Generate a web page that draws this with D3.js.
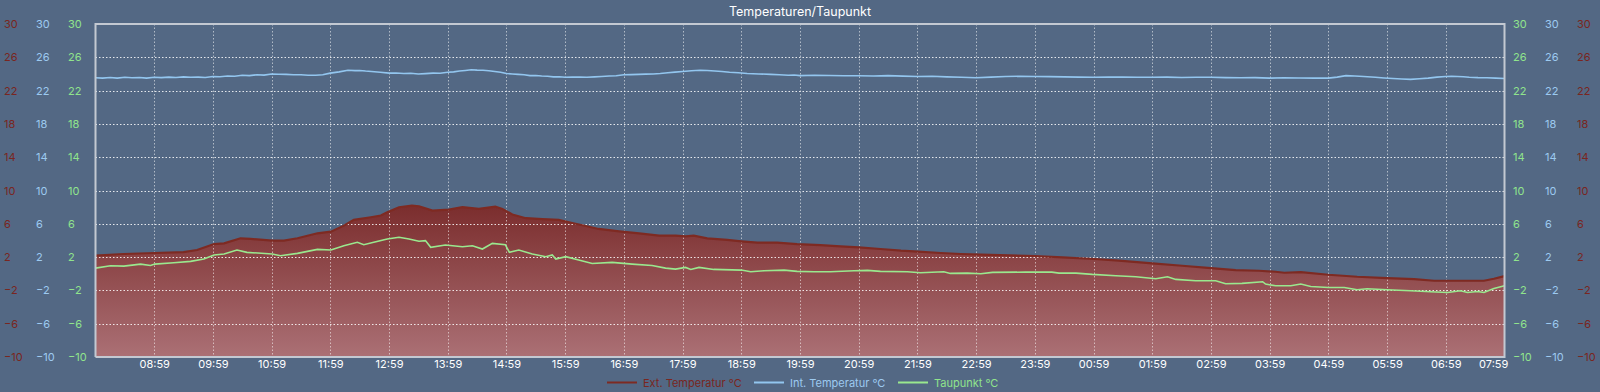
<!DOCTYPE html>
<html>
<head>
<meta charset="utf-8">
<script src="https://cdn.jsdelivr.net/npm/d3@7"></script>
<style>
  html, body { margin: 0; padding: 0; background: #536884; }
  svg { display: block; }
  text { font-family: Inter, "Noto Sans", sans-serif; }
</style>
</head>
<body>
<svg id="chart" width="1600" height="392"></svg>
<script>
// ---------------- data ----------------
const title = "Temperaturen/Taupunkt";
const startTime = "2024-01-01 07:59";
const xTickLabels = ["08:59","09:59","10:59","11:59","12:59","13:59","14:59","15:59","16:59","17:59","18:59","19:59","20:59","21:59","22:59","23:59","00:59","01:59","02:59","03:59","04:59","05:59","06:59","07:59"];
const yTicks = [30, 26, 22, 18, 14, 10, 6, 2, -2, -6, -10];
const seriesNames = ["Ext. Temperatur °C", "Int. Temperatur °C", "Taupunkt °C"];

// hours after start
const extHours = [0,0.48,1.01,1.5,1.73,2.02,2.19,2.47,2.64,3.01,3.21,3.44,3.78,4.01,4.23,4.4,4.69,4.86,4.97,5.17,5.39,5.51,5.74,6.02,6.25,6.53,6.81,6.93,7.1,7.33,7.61,7.89,8.12,8.35,8.57,8.92,9.26,9.6,9.88,10.05,10.19,10.42,10.76,11.0,11.27,11.61,11.95,12.35,12.69,13.0,13.37,13.72,14.01,14.4,14.74,15.08,15.56,16.0,16.47,17.01,17.43,18.0,18.51,19.0,19.42,19.82,20.1,20.25,20.53,21.0,21.49,22.0,22.46,22.8,23.2,23.65,23.82,24.0];
const extValues = [2.17,2.37,2.49,2.6,2.85,3.57,3.65,4.26,4.18,3.98,3.98,4.26,4.86,5.06,5.78,6.47,6.79,7.0,7.39,7.99,8.19,8.11,7.59,7.71,7.99,7.79,8.07,7.79,7.11,6.67,6.55,6.47,6.1,5.74,5.38,5.1,4.86,4.58,4.58,4.5,4.58,4.26,4.06,3.9,3.73,3.73,3.57,3.45,3.29,3.17,2.97,2.77,2.65,2.49,2.37,2.29,2.21,2.13,1.97,1.77,1.57,1.24,0.96,0.68,0.44,0.36,0.24,0.12,0.2,-0.12,-0.36,-0.52,-0.64,-0.84,-0.84,-0.84,-0.6,-0.28];

const intHours = [0,0.12,0.25,0.37,0.5,0.62,0.75,0.87,1,1.12,1.25,1.37,1.5,1.62,1.75,1.87,2,2.12,2.25,2.37,2.5,2.62,2.75,2.87,3,3.12,3.25,3.37,3.5,3.62,3.75,3.87,4,4.15,4.3,4.42,4.5,4.6,4.7,4.85,5,5.12,5.25,5.37,5.5,5.62,5.75,5.87,6,6.1,6.2,6.3,6.4,6.5,6.6,6.7,6.8,6.9,7,7.1,7.2,7.3,7.4,7.5,7.6,7.7,7.8,7.9,8,8.12,8.25,8.37,8.5,8.62,8.75,8.87,9,9.12,9.25,9.37,9.5,9.62,9.75,9.87,10,10.15,10.3,10.42,10.55,10.67,10.8,10.95,11.1,11.3,11.5,11.65,11.8,11.9,12,12.25,12.5,12.75,13,13.25,13.5,13.75,14,14.25,14.5,14.75,15,15.25,15.5,15.75,16,16.25,16.5,16.75,17,17.25,17.5,17.75,18,18.25,18.5,18.75,19,19.25,19.5,19.75,20,20.25,20.5,20.75,21,21.15,21.3,21.45,21.6,21.8,21.95,22.1,22.25,22.4,22.55,22.7,22.85,23,23.1,23.2,23.3,23.4,23.55,23.7,23.85,24];
const intValues = [23.55,23.5,23.58,23.5,23.6,23.55,23.58,23.5,23.6,23.56,23.62,23.58,23.65,23.6,23.62,23.58,23.7,23.66,23.75,23.72,23.85,23.8,23.9,23.86,24.0,23.96,23.95,23.9,23.9,23.84,23.85,23.9,24.1,24.25,24.45,24.4,24.42,24.35,24.3,24.2,24.1,24.12,24.05,24.08,24.0,24.04,24.1,24.08,24.2,24.25,24.35,24.42,24.5,24.46,24.45,24.38,24.3,24.2,24.05,24.0,23.95,23.9,23.8,23.82,23.75,23.72,23.65,23.66,23.6,23.62,23.62,23.6,23.65,23.7,23.75,23.78,23.9,23.92,23.95,23.98,24.0,24.05,24.15,24.22,24.3,24.38,24.45,24.42,24.35,24.3,24.2,24.15,24.05,24.0,23.95,23.9,23.85,23.88,23.8,23.84,23.82,23.78,23.78,23.76,23.8,23.74,23.7,23.72,23.65,23.6,23.55,23.62,23.7,23.72,23.7,23.68,23.65,23.62,23.6,23.64,23.62,23.6,23.6,23.62,23.58,23.6,23.6,23.56,23.55,23.56,23.5,23.54,23.52,23.5,23.5,23.62,23.8,23.76,23.7,23.6,23.52,23.45,23.4,23.35,23.42,23.5,23.62,23.7,23.72,23.7,23.66,23.6,23.56,23.55,23.5,23.45];

const dewHours = [0,0.256,0.483,0.767,0.937,1.01,1.334,1.62,1.845,2.02,2.19,2.41,2.58,3.01,3.15,3.44,3.78,4.01,4.23,4.46,4.57,4.74,4.97,5.17,5.34,5.51,5.62,5.71,5.96,6.25,6.42,6.59,6.76,6.98,7.05,7.21,7.44,7.67,7.78,7.84,8.01,8.23,8.46,8.8,9.14,9.48,9.71,9.88,10.05,10.14,10.28,10.53,11.0,11.16,11.39,11.73,11.95,12.24,12.52,12.92,13.15,13.37,13.83,14.05,14.45,14.56,14.85,15.08,15.28,15.84,16.29,16.41,16.7,16.98,17.38,17.72,18.06,18.26,18.4,18.74,19.08,19.25,19.53,19.88,19.93,20.1,20.36,20.53,20.7,21.0,21.27,21.49,21.66,22.0,22.4,22.74,23.03,23.25,23.37,23.54,23.65,23.82,24.0];
const dewValues = [0.68,0.96,0.92,1.16,1.0,1.16,1.33,1.49,1.77,2.25,2.37,2.85,2.57,2.37,2.17,2.45,2.93,2.85,3.37,3.78,3.49,3.78,4.18,4.38,4.18,3.9,3.98,3.17,3.45,3.25,3.37,2.97,3.65,3.49,2.57,2.85,2.37,2.05,2.25,1.77,2.05,1.65,1.24,1.37,1.16,1.0,0.68,0.56,0.76,0.52,0.76,0.52,0.44,0.24,0.36,0.44,0.28,0.24,0.24,0.36,0.4,0.28,0.24,0.12,0.24,0.04,0.08,0.0,0.16,0.2,0.2,0.08,0.08,-0.08,-0.24,-0.36,-0.6,-0.36,-0.68,-0.84,-0.84,-1.2,-1.16,-0.96,-1.24,-1.45,-1.45,-1.24,-1.53,-1.65,-1.65,-1.93,-1.81,-1.93,-2.05,-2.17,-2.25,-2.05,-2.25,-2.13,-2.25,-1.77,-1.45];

// ---------------- styles ----------------
const colExt = "#7e2a22", colInt = "#93c6ef", colDew = "#9ae88e";
const colExtText = "#7a2620", colIntText = "#9dcaf0", colDewText = "#90e48c";

const svg = d3.select("#chart");
const pLeft = 95.5, pRight = 1504.5, pTop = 24, pBottom = 357;

const t0 = d3.timeParse("%Y-%m-%d %H:%M")(startTime);
const toDate = h => new Date(t0.getTime() + h * 3600000);

const x = d3.scaleTime().domain([t0, toDate(24)]).range([pLeft, pRight]);
const y = d3.scaleLinear().domain([-10, 30]).range([pBottom, pTop]);

const mk = (hs, vs) => hs.map((h, i) => ({ t: toDate(h), v: vs[i] }));
const ext = mk(extHours, extValues);
const intT = mk(intHours, intValues);
const dew = mk(dewHours, dewValues);

// gradient
const defs = svg.append("defs");
const grad = defs.append("linearGradient").attr("id", "extGrad")
  .attr("gradientUnits", "userSpaceOnUse").attr("x1", 0).attr("x2", 0)
  .attr("y1", y(8.5)).attr("y2", pBottom);
grad.append("stop").attr("offset", "0%").attr("stop-color", "#7a2c2c");
grad.append("stop").attr("offset", "100%").attr("stop-color", "#ab7075");

// area
svg.append("path").datum(ext)
  .attr("fill", "url(#extGrad)")
  .attr("d", d3.area().x(d => x(d.t)).y0(pBottom).y1(d => y(d.v)));

// grid
const xTickDates = xTickLabels.map((l, i) => toDate(i + 1));
const grid = svg.append("g");
grid.selectAll("line.h").data(yTicks.filter(v => v !== 30 && v !== -10)).join("line")
  .attr("x1", pLeft).attr("x2", pRight)
  .attr("y1", d => Math.round(y(d)) + 0.5).attr("y2", d => Math.round(y(d)) + 0.5)
  .attr("stroke", "rgba(255,255,255,0.85)").attr("stroke-width", 1.2)
  .attr("stroke-dasharray", "1.5,2");
grid.selectAll("line.v").data(xTickDates.slice(0, -1)).join("line")
  .attr("y1", pTop).attr("y2", pBottom)
  .attr("x1", d => Math.round(x(d)) + 0.5).attr("x2", d => Math.round(x(d)) + 0.5)
  .attr("stroke", "rgba(255,255,255,0.55)").attr("stroke-width", 1)
  .attr("stroke-dasharray", "1.5,2");

// lines
const line = d3.line().x(d => x(d.t)).y(d => y(d.v));
svg.append("path").datum(ext).attr("fill", "none").attr("stroke", colExt)
  .attr("stroke-width", 2.2).attr("d", line);
svg.append("path").datum(dew).attr("fill", "none").attr("stroke", colDew)
  .attr("stroke-width", 1.6).attr("d", line);
svg.append("path").datum(intT).attr("fill", "none").attr("stroke", colInt)
  .attr("stroke-width", 1.6).attr("d", line);

// frame
const frame = "#c3c9d2";
svg.append("path")
  .attr("d", `M${pLeft},${pBottom} L${pLeft},${pTop} L${pRight},${pTop} L${pRight},${pBottom} L${pLeft},${pBottom}`)
  .attr("fill", "none").attr("stroke", frame).attr("stroke-width", 2);

// y axes (labels only)
function yLabels(xPos, color) {
  const g = svg.append("g").attr("transform", `translate(${xPos},0)`);
  const ax = d3.axisLeft(y).tickValues(yTicks).tickSize(0).tickPadding(0);
  g.call(ax);
  g.select(".domain").remove();
  g.selectAll("text").attr("text-anchor", "start").attr("x", 0)
    .attr("fill", color).style("font-size", "11px").style("font-family", "Inter, 'Noto Sans', sans-serif");
}
yLabels(4, colExtText);
yLabels(36, colIntText);
yLabels(68, colDewText);
yLabels(1513, colDewText);
yLabels(1545, colIntText);
yLabels(1577, colExtText);

// x axis
const gx = svg.append("g").attr("transform", `translate(0,${pBottom})`);
gx.call(d3.axisBottom(x).tickValues(xTickDates).tickFormat((d, i) => xTickLabels[i]).tickSize(0).tickPadding(3));
gx.select(".domain").remove();
gx.selectAll("text").attr("fill", "#ffffff").style("font-size", "11px")
  .style("font-family", "Inter, 'Noto Sans', sans-serif");
gx.selectAll("text").filter((d, i) => i === xTickLabels.length - 1).attr("text-anchor", "end").attr("dx", "0.3em");

// title
svg.append("text").attr("x", 800).attr("y", 16).attr("text-anchor", "middle")
  .attr("fill", "#ffffff").style("font-size", "12.5px").style("font-weight", 400).text(title);

// legend
const legendItems = [
  { name: seriesNames[0], color: colExt, text: colExtText, x: 607 },
  { name: seriesNames[1], color: colInt, text: colIntText, x: 754 },
  { name: seriesNames[2], color: colDew, text: colDewText, x: 898 }
];
const lg = svg.append("g");
legendItems.forEach(it => {
  lg.append("line").attr("x1", it.x).attr("x2", it.x + 30).attr("y1", 382.5).attr("y2", 382.5)
    .attr("stroke", it.color).attr("stroke-width", 2);
  lg.append("text").attr("x", it.x + 36).attr("y", 386.5).attr("fill", it.text)
    .style("font-size", "11px").text(it.name);
});
</script>
</body>
</html>
